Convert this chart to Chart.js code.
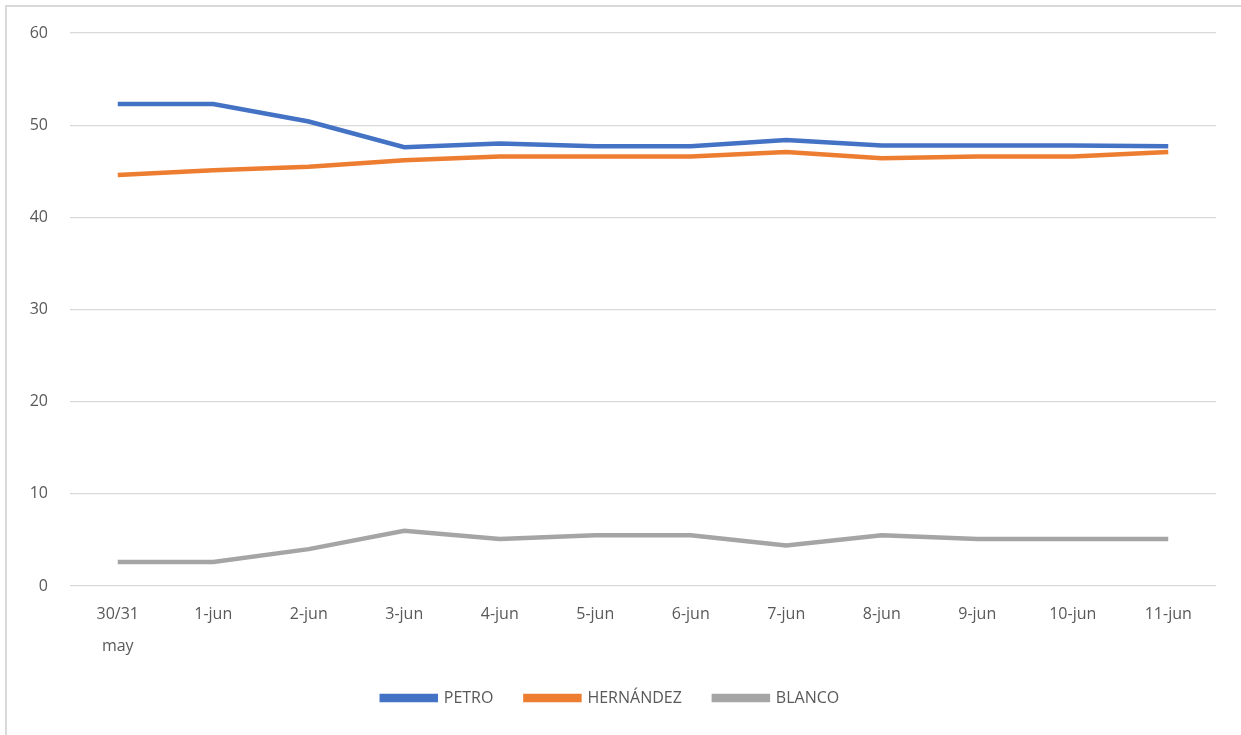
<!DOCTYPE html>
<html>
<head>
<meta charset="utf-8">
<script src="https://cdn.jsdelivr.net/npm/chart.js@4"></script>
<style>
  html, body { margin: 0; padding: 0; background: #fff; }
  #wrap { position: relative; width: 1241px; height: 735px; }
  #frame { position: absolute; left: 5px; top: 5px; right: 0; bottom: 0;
    border-left: 2px solid #d9d9d9; border-top: 2px solid #d9d9d9; }
  canvas { position: absolute; left: 0; top: 0; }
</style>
</head>
<body>
<div id="wrap">
  <div id="frame"></div>
  <canvas id="chart" width="1241" height="735"></canvas>
</div>
<script>
// fechas de las encuestas
const labels = [["30/31", "may"], "1-jun", "2-jun", "3-jun", "4-jun", "5-jun",
  "6-jun", "7-jun", "8-jun", "9-jun", "10-jun", "11-jun"];

const petro = [52.3, 52.3, 50.4, 47.6, 48.0, 47.7, 47.7, 48.4, 47.8, 47.8, 47.8, 47.7];
const hernandez = [44.6, 45.1, 45.5, 46.2, 46.6, 46.6, 46.6, 47.1, 46.4, 46.6, 46.6, 47.1];
const blanco = [2.6, 2.6, 4.0, 6.0, 5.1, 5.5, 5.5, 4.4, 5.5, 5.1, 5.1, 5.1];

const yTicks = [0, 10, 20, 30, 40, 50, 60];

const data = {
  labels: labels,
  datasets: [
    {
      label: "PETRO",
      data: petro,
      borderColor: "#4472C4",
      backgroundColor: "#4472C4",
      borderWidth: 4.5,
      pointRadius: 0,
      tension: 0,
    },
    {
      label: "HERNÁNDEZ",
      data: hernandez,
      borderColor: "#ED7D31",
      backgroundColor: "#ED7D31",
      borderWidth: 4.5,
      pointRadius: 0,
      tension: 0,
    },
    {
      label: "BLANCO",
      data: blanco,
      borderColor: "#A5A5A5",
      backgroundColor: "#A5A5A5",
      borderWidth: 4.5,
      pointRadius: 0,
      tension: 0,
    },
  ],
};

const config = {
  type: "line",
  data: data,
  options: {
    responsive: false,
    animation: false,
    layout: { padding: { left: 5, right: 25, top: 33, bottom: 19 } },
    plugins: {
      legend: {
        position: "bottom",
        labels: {
          boxWidth: 54,
          boxHeight: 4,
          padding: 32,
          color: "#595959",
          font: { family: "Open Sans", size: 16 },
        },
      },
      tooltip: { enabled: false },
    },
    scales: {
      x: {
        offset: true,
        grid: { display: false, drawTicks: false },
        border: { display: false },
        ticks: {
          color: "#595959",
          padding: 12,
          maxRotation: 0,
          autoSkip: false,
          font: { family: "Open Sans", size: 16, lineHeight: 2 },
        },
        afterFit: function (scale) {
          scale.height = 72;
        },
      },
      y: {
        min: 0,
        max: 60,
        afterBuildTicks: function (scale) {
          scale.ticks = yTicks.map((v) => ({ value: v }));
        },
        grid: { color: "#d9d9d9", lineWidth: 1.3, drawTicks: false },
        border: { display: false },
        ticks: {
          color: "#595959",
          padding: 22,
          font: { family: "Open Sans", size: 16 },
        },
        afterFit: function (scale) {
          scale.width = 65;
        },
      },
    },
  },
};

const chart = new Chart(document.getElementById("chart"), config);
</script>
</body>
</html>
